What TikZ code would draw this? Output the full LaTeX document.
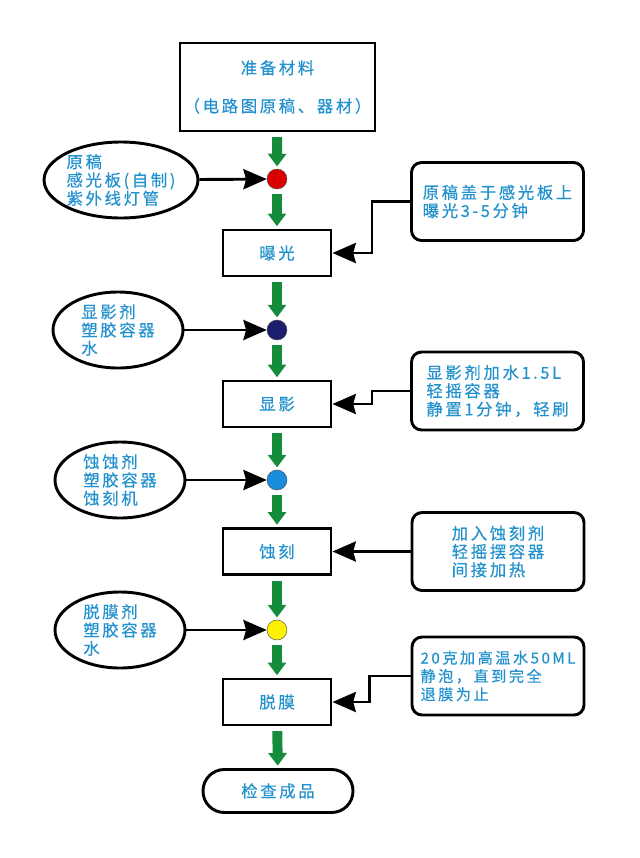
\documentclass[tikz,border=0pt]{standalone}
\usepackage{fontspec}
\newfontfamily\cjk[LetterSpace=16, FakeBold=0.4]{Noto Sans CJK SC}
\usetikzlibrary{positioning, shapes.geometric, arrows.meta}
\definecolor{txtblue}{RGB}{35,145,205}
\definecolor{flowgreen}{RGB}{20,140,60}
\definecolor{dotnavy}{RGB}{30,30,110}
\definecolor{dotblue}{RGB}{25,140,220}

\begin{document}
\begin{tikzpicture}[
    x=0.03cm, y=-0.03cm,
    every node/.style={font=\cjk\fontsize{14}{15.6}\selectfont, text=txtblue},
    stepbox/.style={draw, line width=2.5pt, minimum width=3.24cm, minimum height=1.38cm, inner sep=0pt},
    notebox/.style={draw, line width=2.5pt, rounded corners=0.3cm, minimum width=5.16cm, minimum height=2.34cm, align=left, inner sep=0pt},
    supply/.style={draw, ellipse, line width=2.5pt, minimum width=3.9cm, minimum height=2.28cm, align=left, inner sep=0pt},
    dot/.style={circle, draw=black!70, line width=0.4pt, minimum size=0.6cm, inner sep=0pt},
    flow/.style={draw=flowgreen, line width=8.5pt, shorten <=4pt, shorten >=2pt, -{Triangle[width=0.54cm, length=0.38cm]}},
    blk/.style={line width=2.5pt, -{Stealth[width=0.6cm, length=0.7cm, inset=0.08cm]}}
]
  \useasboundingbox (0,0) rectangle (640,858);

  % --- MAIN COLUMN ---
  \node[stepbox, minimum width=5.85cm, minimum height=2.64cm, align=center] (prep) at (277.5,87) {准备材料\\[17pt]（电路图原稿、器材）};
  \node[dot, fill=red!85!black] (d1) at (277,179) {};
  \node[stepbox] (expose) at (277,253) {曝光};
  \node[dot, fill=dotnavy] (d2) at (277,330) {};
  \node[stepbox] (develop) at (277,404) {显影};
  \node[dot, fill=dotblue] (d3) at (277,480) {};
  \node[stepbox] (etch) at (277,551.5) {蚀刻};
  \node[dot, fill=yellow] (d4) at (277,630) {};
  \node[stepbox] (strip) at (277,702) {脱膜};
  \node[draw, line width=2.5pt, rounded corners=0.64cm, minimum width=4.5cm, minimum height=1.29cm] (check) at (278,791) {检查成品};

  % --- LEFT SUPPLIES ---
  \node[supply] (s1) at (121,180) {原稿\\感光板(自制)\\紫外线灯管};
  \node[supply] (s2) at (118,330) {显影剂\\塑胶容器\\水};
  \node[supply] (s3) at (120,480) {蚀蚀剂\\塑胶容器\\蚀刻机};
  \node[supply] (s4) at (120,630) {脱膜剂\\塑胶容器\\水};

  % --- RIGHT NOTES ---
  \node[notebox] (n1) at (497.5,201.5) {原稿盖于感光板上\\曝光3-5分钟};
  \node[notebox] (n2) at (497.5,391) {显影剂加水1.5L\\轻摇容器\\静置1分钟，轻刷};
  \node[notebox] (n3) at (498,551.5) {加入蚀刻剂\\轻摇摆容器\\间接加热};
  \node[notebox, font=\cjk\fontsize{13}{15.6}\selectfont] (n4) at (498,676) {20克加高温水50ML\\静泡，直到完全\\退膜为止};

  % --- DRAWING EDGES ---

  % Green flow arrows
  \draw[flow] (prep) -- (d1);
  \draw[flow] (d1) -- (expose);
  \draw[flow] (expose) -- (d2);
  \draw[flow] (d2) -- (develop);
  \draw[flow] (develop) -- (d3);
  \draw[flow] (d3) -- (etch);
  \draw[flow] (etch) -- (d4);
  \draw[flow] (d4) -- (strip);
  \draw[flow] (strip) -- (check);

  % Supplies into dots
  \draw[blk] (s1) -- (d1);
  \draw[blk] (s2) -- (d2);
  \draw[blk] (s3) -- (d3);
  \draw[blk] (s4) -- (d4);

  % Notes into steps
  \draw[blk] (n1.west) -- ++(-38,0) |- (expose.east);
  \draw[blk] (n2.west) -- ++(-38,0) |- (develop.east);
  \draw[blk] (n3.west) -- (etch.east);
  \draw[blk] (n4.west) -- ++(-41,0) |- (strip.east);
\end{tikzpicture}
\end{document}
